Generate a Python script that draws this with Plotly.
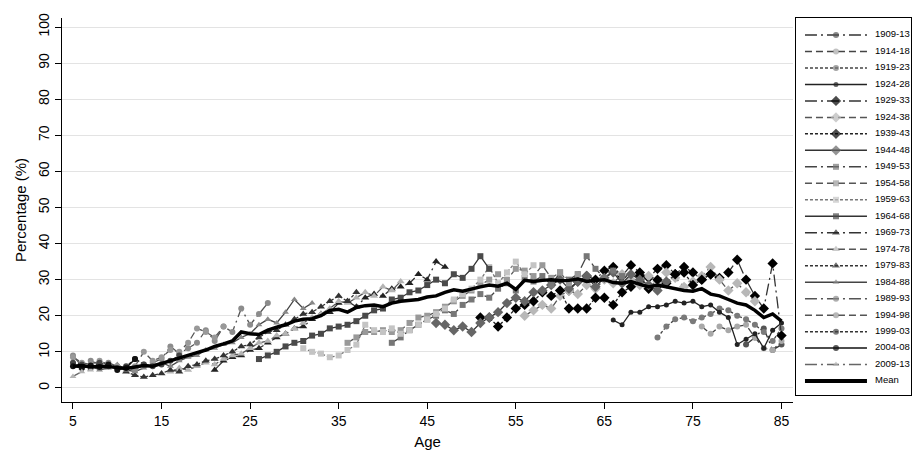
import plotly.graph_objects as go

# ---------------- data ----------------
cohort_labels = ["1909-13", "1914-18", "1919-23", "1924-28", "1929-33", "1924-38", "1939-43",
                 "1944-48", "1949-53", "1954-58", "1959-63", "1964-68", "1969-73", "1974-78",
                 "1979-83", "1984-88", "1989-93", "1994-98", "1999-03", "2004-08", "2009-13"]
cohort_start_age = [81, 76, 71, 66, 61, 56, 51, 46, 41, 36, 31, 26, 21, 16, 11, 6, 5, 5, 5, 5, 5]

c1909_13 = [12.0, 14.0, 16.5, 10.5, 12.0]
c1914_18 = [17.0, 15.0, 17.0, 16.0, 17.0, 17.5, 14.0, 11.0, 10.5, 13.0]
c1919_23 = [14.0, 17.0, 19.0, 19.5, 18.5, 19.5, 20.5, 22.0, 21.5, 20.0, 19.0, 17.5, 15.5, 13.0, 16.5]
c1924_28 = [18.8, 17.5, 21.0, 21.0, 22.5, 22.5, 23.0, 24.0, 23.5, 24.0, 22.5, 23.0, 21.0, 19.5,
            12.0, 13.5, 15.0, 11.0, 16.0, 18.0]
c1929_33 = [27.0, 29.5, 31.0, 30.0, 32.5, 33.5, 31.0, 34.0, 32.0, 30.5, 33.0, 34.0, 31.5, 33.5,
            32.0, 30.0, 31.5, 30.5, 32.0, 35.5, 30.0, 25.5, 22.0, 34.5, 14.5]
c1934_38 = [20.0, 21.5, 23.0, 22.0, 25.5, 27.0, 26.0, 28.5, 27.5, 30.0, 29.0, 31.5, 30.0, 28.5,
            31.0, 29.5, 32.0, 30.5, 28.0, 29.5, 31.0, 33.5, 30.0, 27.0, 29.0, 26.5, 24.0]
c1939_43 = [19.5, 19.5, 17.0, 19.5, 22.0, 23.0, 24.0, 26.5, 25.5, 27.0, 22.0, 22.0, 22.0, 25.0,
            25.0, 23.0, 26.5, 28.0, 31.0, 27.5, 30.0, 29.0, 31.5, 32.0, 28.5, 30.0, 31.5]
c1944_48 = [18.0, 17.5, 16.0, 17.0, 15.5, 18.0, 19.5, 21.0, 23.5, 25.0, 24.0, 26.5, 27.0, 28.5,
            30.0, 27.5, 29.5, 31.0, 28.0, 30.5, 32.0, 29.0, 31.5, 30.0, 28.5, 27.0, 29.5]
c1949_53 = [12.5, 14.0, 16.0, 17.5, 19.0, 20.0, 21.5, 20.5, 23.0, 24.5, 26.0, 25.0, 27.5, 29.0,
            27.0, 30.5, 29.5, 31.0, 28.5, 32.0, 30.0, 31.5, 36.5, 33.0, 30.5, 32.5, 31.0]
c1954_58 = [12.5, 14.0, 15.5, 15.5, 16.0, 15.5, 16.0, 18.0, 19.5, 20.0, 21.0, 22.5, 24.0, 25.5,
            27.0, 28.5, 30.0, 31.5, 30.0, 33.0, 32.5, 31.0, 34.0, 30.5, 32.0, 29.0, 31.5]
c1959_63 = [11.0, 10.0, 9.5, 8.5, 9.0, 10.5, 12.0, 17.5, 16.0, 15.5, 16.5, 15.0, 16.0, 17.5,
            19.0, 20.5, 22.0, 24.5, 26.0, 27.5, 30.0, 33.5, 29.0, 32.0, 35.0, 31.5, 34.0]
c1964_68 = [8.0, 9.0, 10.0, 11.5, 12.5, 13.0, 14.5, 15.0, 16.5, 17.0, 17.5, 18.5, 20.0, 21.5,
            22.0, 24.5, 25.0, 26.5, 27.0, 28.5, 30.0, 29.0, 31.5, 30.5, 33.0, 36.5, 33.0]
c1969_73 = [5.0, 7.5, 8.5, 9.0, 10.5, 11.0, 12.5, 14.0, 15.0, 16.5, 17.0, 19.0, 20.5, 21.0,
            23.5, 24.0, 22.5, 25.0, 26.0, 25.5, 27.5, 28.0, 29.0, 31.5, 30.0, 35.0, 33.5]
c1974_78 = [4.5, 5.5, 5.0, 6.0, 7.0, 6.5, 8.0, 9.0, 9.5, 11.0, 12.5, 13.0, 14.5, 15.0,
            16.5, 18.0, 19.5, 20.5, 22.0, 24.0, 23.5, 25.0, 26.5, 25.5, 28.0, 27.0, 29.5]
c1979_83 = [4.5, 3.5, 3.0, 3.5, 4.0, 5.0, 4.5, 6.0, 6.5, 7.5, 8.0, 9.0, 10.0, 11.5,
            12.0, 14.0, 15.5, 16.0, 17.5, 19.0, 20.5, 21.0, 22.5, 24.0, 25.5, 24.0, 26.5]
c1984_88 = [5.5, 6.0, 5.0, 5.5, 6.5, 5.0, 4.5, 5.5, 6.5, 7.0, 6.0, 7.5, 8.5, 9.0,
            10.5, 11.0, 12.0, 12.5, 14.0, 15.0, 17.5, 19.0, 18.0, 21.0, 24.5, 22.0, 23.5]
c1989_93 = [9.0, 6.0, 7.5, 6.5, 7.0, 6.0, 5.5, 5.0, 6.5, 7.0, 8.0, 11.5, 9.5, 11.0,
            12.5, 16.0, 13.0, 17.0, 15.5, 22.0, 17.5, 20.5, 23.5]
c1994_98 = [8.5, 7.0, 6.5, 7.5, 6.5, 6.0, 5.5, 6.0, 10.0, 7.5, 8.5, 10.5, 10.0, 12.5,
            16.5, 15.5, 14.0, 17.0]
c1999_03 = [7.0, 6.5, 5.5, 7.0, 6.0, 5.5, 6.0, 8.0, 6.5, 6.0, 6.5, 7.5, 9.0]
c2004_08 = [6.0, 5.5, 6.2, 5.8, 6.5, 5.0, 5.5, 8.0]
c2009_13 = [3.2, 4.5, 5.0]

mean_start_age = 5
mean_values = [6.0, 6.2, 5.8, 6.0, 5.9, 5.6, 5.4, 5.8, 6.2, 6.0,
               6.8, 7.5, 8.2, 9.0, 9.8, 10.5, 11.5, 12.2, 13.0, 15.5,
               15.0, 14.8, 16.0, 16.8, 17.5, 18.5, 19.0, 19.2, 20.0, 21.5,
               21.8, 21.0, 22.3, 22.8, 23.0, 22.5, 23.5, 24.0, 24.2, 24.5,
               25.2, 25.5, 26.5, 27.2, 26.8, 27.5, 28.0, 28.5, 28.2, 29.0,
               27.3, 29.8, 29.5, 29.8, 30.0, 29.7, 29.8, 30.2, 29.5, 29.8,
               30.0, 29.2, 29.0, 29.5, 28.8, 28.0, 28.5, 28.0, 27.5, 27.0,
               26.8, 27.5, 26.0, 25.5, 24.5, 23.5, 23.0, 21.5, 19.5, 20.5,
               18.5]

x_tick_values = [5, 15, 25, 35, 45, 55, 65, 75, 85]
y_tick_values = [0, 10, 20, 30, 40, 50, 60, 70, 80, 90, 100]

cohort_values = [c1909_13, c1914_18, c1919_23, c1924_28, c1929_33, c1934_38, c1939_43,
                 c1944_48, c1949_53, c1954_58, c1959_63, c1964_68, c1969_73, c1974_78,
                 c1979_83, c1984_88, c1989_93, c1994_98, c1999_03, c2004_08, c2009_13]

# ---------------- styles ----------------
LDD = "12px,4px,2px,4px"   # long dash dot
DSH = "7px,4px"            # dash
SDT = "3px,2px"            # short dash
SOL = "solid"
dashes = [LDD, DSH, SDT, SOL] * 6
symbols = (["circle"] * 4 + ["diamond"] * 4 + ["square"] * 4 + ["triangle-up"] * 4
           + ["circle"] * 4 + ["triangle-up"])
marker_colors = ["#555555", "#a8a8a8", "#7a7a7a", "#222222",
                 "#000000", "#b8b8b8", "#000000", "#666666",
                 "#777777", "#999999", "#c4c4c4", "#4a4a4a",
                 "#222222", "#b4b4b4", "#333333", "#888888",
                 "#8c8c8c", "#999999", "#444444", "#111111",
                 "#b4b4b4"]
line_colors = ["#333333", "#444444", "#444444", "#222222",
               "#333333", "#555555", "#222222", "#333333",
               "#444444", "#555555", "#777777", "#333333",
               "#333333", "#555555", "#333333", "#444444",
               "#555555", "#555555", "#333333", "#111111",
               "#666666"]
marker_sizes = [6, 6, 6, 5, 8, 8, 8, 8, 6, 6, 6, 6, 7, 7, 7, 6, 6, 6, 6, 6, 6]

FONT = "Liberation Sans, Arial, sans-serif"

fig = go.Figure()

for i, vals in enumerate(cohort_values):
    ages = list(range(cohort_start_age[i], cohort_start_age[i] + len(vals)))
    fig.add_trace(go.Scatter(
        x=ages, y=vals, mode="lines+markers", name=cohort_labels[i],
        line=dict(color=line_colors[i], width=1.3, dash=dashes[i]),
        marker=dict(symbol=symbols[i], size=marker_sizes[i], color=marker_colors[i],
                    line=dict(width=0)),
        showlegend=False, xaxis="x", yaxis="y"))

mean_ages = list(range(mean_start_age, mean_start_age + len(mean_values)))
fig.add_trace(go.Scatter(x=mean_ages, y=mean_values, mode="lines", name="Mean",
                         line=dict(color="black", width=3.5), showlegend=False,
                         xaxis="x", yaxis="y"))

# ---------------- hand-built legend on its own axes ----------------
legend_labels = cohort_labels + ["Mean"]
legend_rows = list(range(len(legend_labels)))
for i, lab in enumerate(legend_labels):
    if lab == "Mean":
        fig.add_trace(go.Scatter(x=[9, 71], y=[i, i], mode="lines",
                                 line=dict(color="black", width=4),
                                 showlegend=False, hoverinfo="skip",
                                 xaxis="x2", yaxis="y2"))
    else:
        fig.add_trace(go.Scatter(x=[9, 40, 71], y=[i, i, i], mode="lines+markers",
                                 line=dict(color=line_colors[i], width=1.5, dash=dashes[i]),
                                 marker=dict(symbol=symbols[i], size=[0, marker_sizes[i], 0],
                                             color=marker_colors[i], line=dict(width=0)),
                                 showlegend=False, hoverinfo="skip",
                                 xaxis="x2", yaxis="y2"))

fig.add_trace(go.Scatter(x=[79] * len(legend_labels), y=legend_rows, mode="text",
                         text=legend_labels, textposition="middle right",
                         textfont=dict(family=FONT, size=9.5, color="black"),
                         cliponaxis=False, showlegend=False, hoverinfo="skip",
                         xaxis="x2", yaxis="y2"))

fig.update_layout(
    width=915, height=455,
    margin=dict(l=62, r=3, t=18, b=53),
    paper_bgcolor="white", plot_bgcolor="white",
    font=dict(family=FONT, color="black"),
    showlegend=False,
    xaxis=dict(domain=[0, 0.86], range=[3.76, 86.3], tickvals=x_tick_values,
               ticks="outside", ticklen=6, tickcolor="black", showgrid=False,
               zeroline=False, showline=True, linecolor="black", linewidth=1,
               tickfont=dict(size=14), title=dict(text="Age", font=dict(size=15), standoff=8)),
    yaxis=dict(range=[-3.9, 102.5], tickvals=y_tick_values, tickangle=-90,
               ticks="outside", ticklen=6, tickcolor="black", showgrid=True,
               gridcolor="#e3e3e3", gridwidth=1, zeroline=False, showline=True,
               linecolor="black", linewidth=1, tickfont=dict(size=14),
               title=dict(text="Percentage (%)", font=dict(size=15), standoff=6)),
    xaxis2=dict(domain=[0.8635, 0.9988], range=[0, 115], anchor="y2",
                showgrid=False, zeroline=False, showticklabels=False, ticks="",
                showline=True, mirror=True, linecolor="black", linewidth=1, fixedrange=True),
    yaxis2=dict(domain=[0.018, 1.0], range=[21.85, -1.03], anchor="x2",
                showgrid=False, zeroline=False, showticklabels=False, ticks="",
                showline=True, mirror=True, linecolor="black", linewidth=1, fixedrange=True),
)

fig.write_html("out.html")
